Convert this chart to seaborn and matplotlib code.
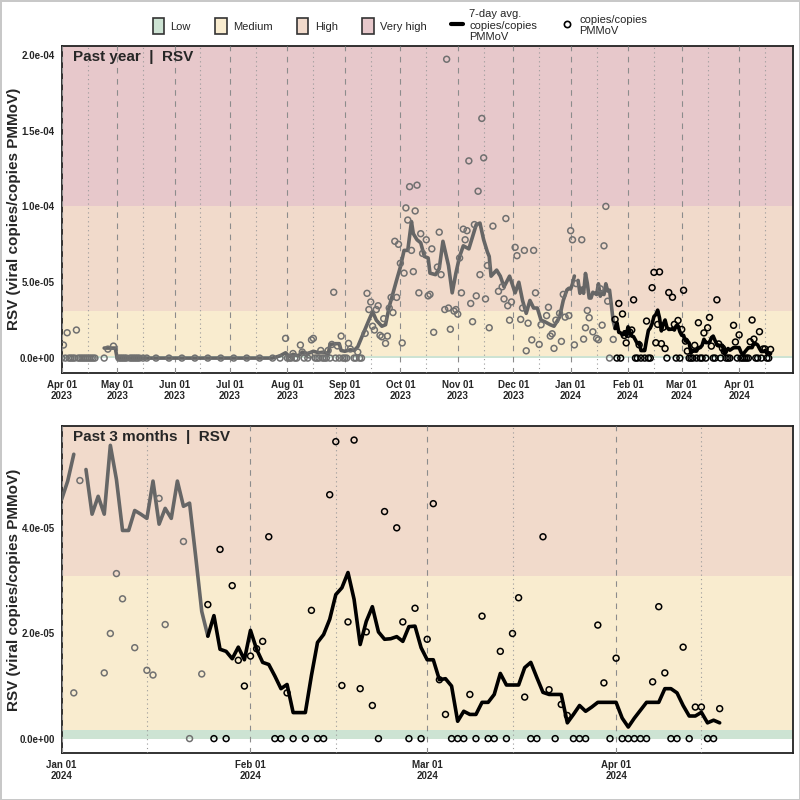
import numpy as np
import pandas as pd
import seaborn as sns
import matplotlib.pyplot as plt
import matplotlib.dates as mdates
from matplotlib.patches import Patch
from matplotlib.lines import Line2D
from matplotlib.ticker import FuncFormatter

# 7-day average, Apr-Dec 2023 (days since 2023-04-01)
avg23_day = [23, 29, 30, 114, 118, 121, 123, 125, 128, 130, 133, 136, 139, 142, 144, 145,
             148, 150, 151, 153, 156, 158, 160, 163, 166, 168, 170, 173, 175, 177, 179, 181,
             183, 185, 187, 189, 190, 192, 194, 196, 198, 199, 202, 204, 206, 209, 211, 213,
             215, 217, 220, 222, 224, 226, 228, 230, 231, 232, 235, 237, 239, 242, 245, 247,
             249, 251, 253, 255, 257, 259, 261, 264, 266, 269, 271, 273, 274]
avg23_val = [6.6e-6, 6.6e-6, 0, 0, 1.5e-6, 3.5e-6, 1e-6, 2.5e-6, 1.5e-6, 4e-6, 3e-6, 4.5e-6,
             3.5e-6, 4e-6, 2.5e-6, 9e-6, 9.5e-6, 9.5e-6, 5e-6, 4.5e-6, 5.5e-6, 5e-6, 7.5e-6,
             1.63e-5, 2.5e-5, 3.06e-5, 2.5e-5, 2.1e-5, 2.2e-5, 3.4e-5, 4.27e-5, 5.15e-5,
             6.0e-5, 7.1e-5, 7.1e-5, 9.0e-5, 8.2e-5, 7.8e-5, 7.6e-5, 6.7e-5, 6.6e-5, 5.6e-5,
             5.5e-5, 5.9e-5, 7.7e-5, 6.1e-5, 4.3e-5, 5.6e-5, 6.7e-5, 7.4e-5, 7.2e-5, 8.0e-5,
             8.8e-5, 8.9e-5, 7.8e-5, 7.0e-5, 6.7e-5, 5.4e-5, 5.8e-5, 5.4e-5, 4.7e-5, 5.4e-5,
             4.3e-5, 5.0e-5, 3.8e-5, 2.95e-5, 3.8e-5, 3.3e-5, 3.3e-5, 2.5e-5, 2.4e-5, 2.2e-5,
             2.1e-5, 2.7e-5, 3.8e-5, 4.5e-5, 4.6e-5]

# 7-day average, one value per day from 2024-01-01 (nan = gap)
avg24_val = [4.55e-5, 4.9e-5, 5.41e-5, np.nan, 5.12e-5, 4.27e-5, 4.61e-5, 4.27e-5, 5.58e-5,
             4.93e-5, 3.96e-5, 3.96e-5, 4.34e-5, 4.27e-5, 4.19e-5, 4.9e-5, 4.08e-5, 4.38e-5,
             4.19e-5, 4.9e-5, 4.42e-5, 4.48e-5, 3.47e-5, 2.42e-5, 1.95e-5, 2.34e-5, 1.70e-5,
             1.66e-5, 1.52e-5, 1.74e-5, 1.5e-5, 2.06e-5, 1.70e-5, 1.45e-5, 1.41e-5, 1.19e-5,
             9.5e-6, 1.03e-5, 4.95e-6, 4.95e-6, 4.95e-6, 1.2e-5, 1.83e-5, 1.98e-5, 2.27e-5,
             2.74e-5, 2.87e-5, 3.16e-5, 2.65e-5, 1.79e-5, 2.23e-5, 2.51e-5, 2.03e-5, 1.89e-5,
             1.90e-5, 1.94e-5, 1.85e-5, 2.13e-5, 2.14e-5, 1.73e-5, 1.5e-5, 1.5e-5, 1.12e-5,
             1.14e-5, 1.0e-5, 3.3e-6, 5.2e-6, 4.6e-6, 4.6e-6, 6.9e-6, 6.9e-6, 8.4e-6, 1.24e-5,
             1.02e-5, 1.02e-5, 1.02e-5, 1.35e-5, 1.45e-5, 1.16e-5, 8.8e-6, 8.4e-6, 8.4e-6,
             8.4e-6, 3.0e-6, 4.6e-6, 6.3e-6, 5.2e-6, 6.0e-6, 6.9e-6, 6.9e-6, 6.9e-6, 6.9e-6,
             3.9e-6, 2.2e-6, 3.9e-6, 5.4e-6, 6.9e-6, 6.9e-6, 6.9e-6, 9.5e-6, 9.5e-6, 8.7e-6,
             6.3e-6, 4.3e-6, 4.3e-6, 5.0e-6, 3.0e-6, 3.5e-6, 3.0e-6]

# single samples, 2023 (days since 2023-04-01)
pts23_day = [0, 1, 2, 3, 4, 5, 6, 7, 8, 9, 10, 11, 12, 13, 14, 15, 16, 17, 18, 23, 25, 28,
             31, 32, 33, 34, 35, 37, 38, 39, 40, 41, 42, 44, 46, 51, 58, 65, 72, 79, 86, 93,
             100, 107, 114, 118, 121, 122, 123, 124, 125, 126, 127, 129, 130, 131, 133, 134,
             135, 136, 137, 138, 139, 140, 141, 142, 143, 144, 145, 146, 147, 148, 149, 150,
             151, 152, 153, 154, 155, 156, 158, 159, 160, 161, 162, 164, 165, 166, 167, 168,
             169, 170, 171, 172, 173, 174, 175, 176, 177, 178, 179, 180, 181, 182, 183, 184,
             185, 186, 187, 188, 189, 190, 191, 192, 193, 194, 195, 197, 198, 199, 200, 201,
             203, 204, 205, 207, 208, 209, 210, 212, 213, 214, 215, 216, 217, 218, 219, 220,
             221, 222, 223, 224, 225, 226, 227, 228, 229, 230, 231, 233, 236, 238, 239, 240,
             241, 242, 243, 245, 246, 248, 249, 250, 251, 252, 254, 255, 256, 258, 259, 262,
             263, 264, 265, 266, 267, 269, 270, 271, 272, 274]
pts23_val = [0, 8.6e-6, 0, 1.67e-5, 0, 0, 0, 0, 1.85e-5, 0, 0, 0, 0, 0, 0, 0, 0, 0, 0, 0,
             5.9e-6, 7.9e-6, 0, 0, 0, 0, 0, 0, 0, 0, 0, 0, 0, 0, 0, 0, 0, 0, 0, 0, 0, 0, 0, 0,
             0, 0, 1.3e-5, 0, 0, 0, 3e-6, 0, 0, 8.6e-6, 4e-6, 0, 0, 2e-6, 1.2e-5, 1.3e-5, 0,
             0, 0, 5e-6, 0, 0, 0, 5e-6, 0, 9e-6, 4.34e-5, 0, 8e-6, 0, 1.45e-5, 0, 0, 0,
             9.7e-6, 6e-6, 0, 0, 4e-6, 0, 0, 1.63e-5, 4.27e-5, 3.2e-5, 3.7e-5, 2.1e-5, 1.85e-5,
             3.2e-5, 3.45e-5, 1.5e-5, 1.4e-5, 2.6e-5, 9.7e-6, 1.45e-5, 3.3e-5, 4.0e-5, 3.0e-5,
             7.7e-5, 4.0e-5, 7.5e-5, 6.25e-5, 1.0e-5, 5.6e-5, 9.9e-5, 9.1e-5, 1.13e-4, 7.1e-5,
             5.7e-5, 9.7e-5, 1.14e-4, 4.3e-5, 8.2e-5, 6.9e-5, 7.8e-5, 4.1e-5, 4.2e-5, 7.2e-5,
             1.7e-5, 6.0e-5, 8.3e-5, 5.5e-5, 3.2e-5, 1.97e-4, 3.3e-5, 1.9e-5, 3.1e-5, 3.2e-5,
             2.9e-5, 6.6e-5, 4.3e-5, 8.5e-5, 7.8e-5, 8.4e-5, 1.3e-4, 3.6e-5, 2.4e-5, 8.8e-5,
             4.1e-5, 1.1e-4, 5.5e-5, 1.58e-4, 1.32e-4, 3.9e-5, 6.1e-5, 2.0e-5, 8.7e-5, 4.4e-5,
             4.7e-5, 3.9e-5, 9.2e-5, 3.45e-5, 2.5e-5, 3.7e-5, 7.3e-5, 6.75e-5, 2.55e-5, 3.3e-5,
             7.1e-5, 4.8e-6, 2.3e-5, 1.2e-5, 7.1e-5, 4.3e-5, 9e-6, 2.2e-5, 2.8e-5, 3.35e-5,
             1.45e-5, 1.6e-5, 6.4e-6, 2.5e-5, 2.95e-5, 1.1e-5, 4.2e-5, 2.7e-5, 2.8e-5]

# single samples, 2024 (days since 2024-01-01)
pts24_day = [0, 1, 2, 3, 6, 7, 8, 9, 10, 12, 14, 15, 16, 17, 18, 19, 20, 21, 23, 24, 25, 26,
             27, 28, 29, 30, 31, 32, 33, 34, 35, 36, 37, 38, 40, 41, 42, 43, 44, 45, 46, 47,
             48, 49, 50, 51, 52, 53, 55, 56, 57, 58, 59, 60, 61, 62, 63, 64, 65, 66, 67, 68,
             69, 70, 71, 72, 73, 74, 75, 76, 77, 78, 79, 80, 81, 82, 83, 84, 85, 86, 88, 89,
             90, 91, 92, 93, 94, 95, 96, 97, 98, 99, 100, 101, 102, 103, 104, 105, 106, 107, 108]
pts24_val = [8.4e-5, 7.8e-5, 8.7e-6, 4.91e-5, 7.8e-5, 1.25e-5, 2.0e-5, 3.14e-5, 2.66e-5,
             1.73e-5, 1.30e-5, 1.21e-5, 4.57e-5, 2.17e-5, 7.4e-5, 1.0e-4, 3.75e-5, 0, 1.23e-5,
             2.55e-5, 0, 3.6e-5, 0, 2.91e-5, 1.49e-5, 1.0e-5, 1.57e-5, 1.71e-5, 1.85e-5,
             3.84e-5, 0, 0, 8.7e-6, 0, 0, 2.44e-5, 0, 0, 4.64e-5, 5.65e-5, 1.01e-5, 2.22e-5,
             5.68e-5, 9.5e-6, 2.03e-5, 6.3e-6, 0, 4.32e-5, 4.01e-5, 2.22e-5, 0, 2.48e-5, 0,
             1.89e-5, 4.47e-5, 1.12e-5, 4.6e-6, 0, 0, 0, 8.4e-6, 0, 2.33e-5, 0, 0, 1.66e-5, 0,
             2.0e-5, 2.68e-5, 7.9e-6, 0, 0, 3.84e-5, 9.3e-6, 0, 6.5e-6, 4.4e-6, 0, 0, 0,
             2.16e-5, 1.06e-5, 0, 1.53e-5, 0, 0, 0, 0, 0, 1.08e-5, 2.51e-5, 1.25e-5, 0, 0,
             1.74e-5, 0, 6.0e-6, 6.0e-6, 0, 0, 5.7e-6]

band_names = ['Low', 'Medium', 'High', 'Very high']
band_edges = [0, 1.7e-6, 3.1e-5, 1.0e-4, 1.0]
band_colors = ['#cde3d3', '#f9eccf', '#f1dacb', '#e7c8cb']

start23 = pd.Timestamp('2023-04-01')
start24 = pd.Timestamp('2024-01-01')
recent_start = pd.Timestamp('2024-01-25')
gray = '#666666'

# assemble the average line, splitting it at gaps
avg = pd.concat([
    pd.DataFrame({'date': start23 + pd.to_timedelta(avg23_day, unit='D'), 'value': avg23_val}),
    pd.DataFrame({'date': start24 + pd.to_timedelta(np.arange(len(avg24_val)), unit='D'),
                  'value': avg24_val}),
], ignore_index=True)
avg['seg'] = avg['value'].isna().cumsum()
avg = avg.dropna()

pts = pd.concat([
    pd.DataFrame({'date': start23 + pd.to_timedelta(pts23_day, unit='D'), 'value': pts23_val}),
    pd.DataFrame({'date': start24 + pd.to_timedelta(pts24_day, unit='D'), 'value': pts24_val}),
], ignore_index=True)
pts['recent'] = pts['date'] >= recent_start

sns.set_style('white')
plt.rcParams['font.family'] = ['Liberation Sans', 'DejaVu Sans']

fig = plt.figure(figsize=(8, 8), dpi=100)
fig.patch.set_edgecolor('#c8c8c8')
fig.patch.set_linewidth(2)
ax1 = fig.add_axes([0.077, 0.534, 0.914, 0.409])
ax2 = fig.add_axes([0.077, 0.059, 0.914, 0.408])


def draw_panel(ax, x0, x1, ylim, yticks, title):
    for lo, hi, c in zip(band_edges[:-1], band_edges[1:], band_colors):
        ax.axhspan(lo, hi, color=c, lw=0, zorder=0)

    for _, g in avg.groupby('seg'):
        old = g[g['date'] <= recent_start]
        new = g[g['date'] >= recent_start]
        if len(old) > 1:
            sns.lineplot(data=old, x='date', y='value', color=gray, lw=2.6,
                         estimator=None, sort=False, ax=ax, zorder=3)
        if len(new) > 1:
            sns.lineplot(data=new, x='date', y='value', color='black', lw=2.6,
                         estimator=None, sort=False, ax=ax, zorder=4)

    sns.scatterplot(data=pts[~pts['recent']], x='date', y='value', marker='o', s=18,
                    facecolors='none', edgecolor='#707070', linewidth=1.1, ax=ax, zorder=5)
    sns.scatterplot(data=pts[pts['recent']], x='date', y='value', marker='o', s=18,
                    facecolors='none', edgecolor='black', linewidth=1.1, ax=ax, zorder=6)

    ax.set_xlim(x0, x1)
    ax.set_ylim(*ylim)
    ax.set_yticks(yticks)
    ax.yaxis.set_major_formatter(FuncFormatter(lambda v, p: f'{v:.1e}'))
    ax.xaxis.set_major_locator(mdates.MonthLocator())
    ax.xaxis.set_minor_locator(mdates.DayLocator(bymonthday=15))
    ax.xaxis.set_major_formatter(mdates.DateFormatter('%b %d\n%Y'))
    ax.grid(axis='x', which='major', color='#8c8c8c', lw=0.8, ls=(0, (5, 5)), zorder=1)
    ax.grid(axis='x', which='minor', color='#9a9a9a', lw=0.8, ls=(0, (1, 3)), zorder=1)
    ax.set_axisbelow(False)
    ax.tick_params(axis='both', which='both', length=0, pad=5, labelsize=7)
    for lab in ax.get_xticklabels() + ax.get_yticklabels():
        lab.set_fontweight('bold')
    for sp in ax.spines.values():
        sp.set_color('#222222')
        sp.set_linewidth(1.3)
    ax.set_xlabel('')
    ax.set_ylabel('RSV (viral copies/copies PMMoV)', fontsize=11, fontweight='bold')
    ax.yaxis.set_label_coords(-0.055, 0.5)
    ax.text(0.016, 0.988, title, transform=ax.transAxes, va='top', ha='left',
            fontsize=11, fontweight='bold')


draw_panel(ax1, pd.Timestamp('2023-04-01'), pd.Timestamp('2024-04-30'),
           (-9.7e-6, 2.06e-4), [0, 5e-5, 1e-4, 1.5e-4, 2e-4], 'Past year  |  RSV')
draw_panel(ax2, pd.Timestamp('2024-01-01'), pd.Timestamp('2024-04-30'),
           (-2.7e-6, 5.94e-5), [0, 2e-5, 4e-5], 'Past 3 months  |  RSV')

handles = [Patch(facecolor=c, edgecolor='#333333', lw=1.2) for c in band_colors]
handles += [Line2D([], [], color='black', lw=3),
            Line2D([], [], marker='o', ls='', mfc='none', mec='black', mew=1.2, ms=4.5)]
labels = band_names + ['7-day avg.\ncopies/copies\nPMMoV', 'copies/copies\nPMMoV']
fig.legend(handles, labels, loc='center', bbox_to_anchor=(0.5, 0.968), ncol=6,
           frameon=False, fontsize=8, handlelength=1.0, handleheight=1.8,
           handletextpad=0.6, columnspacing=2.2)

fig.savefig('out.png', dpi=100, edgecolor=fig.get_edgecolor())
